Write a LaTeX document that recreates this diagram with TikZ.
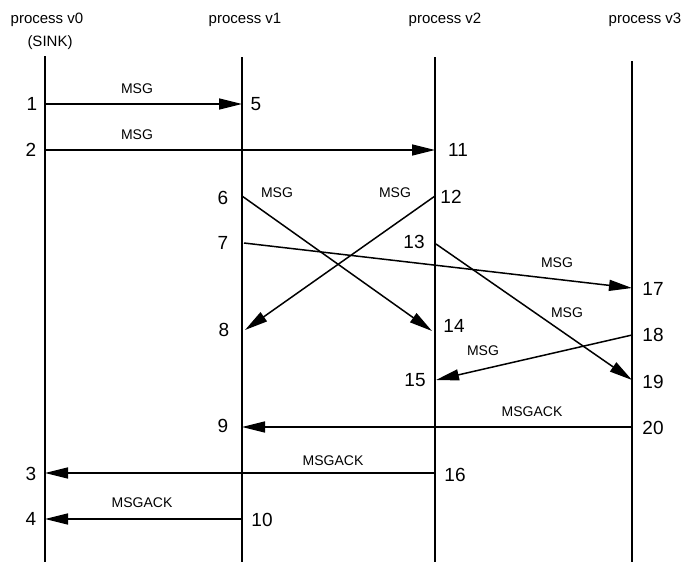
\documentclass[tikz,border=0pt]{standalone}
\usepackage{fontspec}
\setmainfont{Liberation Sans}
\usetikzlibrary{arrows.meta}
\begin{document}
\begin{tikzpicture}[x=1pt,y=-1pt,
  lifeline/.style={line width=1.8pt},
  msgarrow/.style={line width=1.5pt,-{Triangle[length=23pt,width=11pt]}},
  header/.style={font=\fontsize{15}{16}\selectfont,inner sep=0pt},
  evnum/.style={font=\fontsize{19}{20}\selectfont,inner sep=0pt},
  msglabel/.style={font=\fontsize{14}{15}\selectfont,inner sep=0pt}]
\useasboundingbox (0,0) rectangle (687,563);

% process headers
\node[header] (h0) at (47,20) {process v0};
\node[header] (h0b) at (50,43) {(SINK)};
\node[header] (h1) at (245,20) {process v1};
\node[header] (h2) at (445,20) {process v2};
\node[header] (h3) at (645,20) {process v3};

% lifelines
\coordinate (t0) at (45,56);  \coordinate (b0) at (45,562);
\coordinate (t1) at (242,57); \coordinate (b1) at (242,562);
\coordinate (t2) at (435,57); \coordinate (b2) at (435,562);
\coordinate (t3) at (632,61); \coordinate (b3) at (632,562);
\draw[lifeline] (t0) -- (b0);
\draw[lifeline] (t1) -- (b1);
\draw[lifeline] (t2) -- (b2);
\draw[lifeline] (t3) -- (b3);

% events on the lifelines
\coordinate (e1) at (45,104);   \coordinate (e5) at (242,104);
\coordinate (e2) at (45,150);   \coordinate (e11) at (435,150);
\coordinate (e6) at (242,196);  \coordinate (e14) at (432,331);
\coordinate (e12) at (435,196); \coordinate (e8) at (245,330);
\coordinate (e7) at (244,243);  \coordinate (e17) at (632,288);
\coordinate (e13) at (436,244); \coordinate (e19) at (632,380);
\coordinate (e18) at (632,335); \coordinate (e15) at (436,380);
\coordinate (e20) at (632,427); \coordinate (e9) at (242,427);
\coordinate (e16) at (435,473); \coordinate (e3) at (45,473);
\coordinate (e10) at (242,519); \coordinate (e4) at (45,519);

% event numbers
\node[evnum] (n1) at (32,104) {1};
\node[evnum] (n2) at (31,150) {2};
\node[evnum] (n5) at (256,104) {5};
\node[evnum] (n11) at (458,150) {11};
\node[evnum] (n6) at (223,198) {6};
\node[evnum] (n12) at (451,197) {12};
\node[evnum] (n7) at (223,243) {7};
\node[evnum] (n13) at (414,242) {13};
\node[evnum] (n8) at (224,330) {8};
\node[evnum] (n14) at (454,326) {14};
\node[evnum] (n17) at (653,289) {17};
\node[evnum] (n18) at (653,335) {18};
\node[evnum] (n19) at (653,382) {19};
\node[evnum] (n15) at (415,380) {15};
\node[evnum] (n9) at (223,426) {9};
\node[evnum] (n20) at (653,428) {20};
\node[evnum] (n3) at (31,474) {3};
\node[evnum] (n16) at (455,475) {16};
\node[evnum] (n4) at (31,519) {4};
\node[evnum] (n10) at (262,520) {10};

% messages
\draw[msgarrow] (e1) -- (e5);
\draw[msgarrow] (e2) -- (e11);
\draw[msgarrow] (e6) -- (e14);
\draw[msgarrow] (e12) -- (e8);
\draw[msgarrow] (e7) -- (e17);
\draw[msgarrow] (e13) -- (e19);
\draw[msgarrow] (e18) -- (e15);
\draw[msgarrow] (e20) -- (e9);
\draw[msgarrow] (e16) -- (e3);
\draw[msgarrow] (e10) -- (e4);

% message labels
\node[msglabel] (m1) at (137,89) {MSG};
\node[msglabel] (m2) at (137,135) {MSG};
\node[msglabel] (m6) at (277,193) {MSG};
\node[msglabel] (m12) at (395,193) {MSG};
\node[msglabel] (m7) at (557,263) {MSG};
\node[msglabel] (m13) at (567,313) {MSG};
\node[msglabel] (m18) at (483,351) {MSG};
\node[msglabel] (m20) at (532,412) {MSGACK};
\node[msglabel] (m16) at (333,461) {MSGACK};
\node[msglabel] (m10) at (142,503) {MSGACK};
\end{tikzpicture}
\end{document}
